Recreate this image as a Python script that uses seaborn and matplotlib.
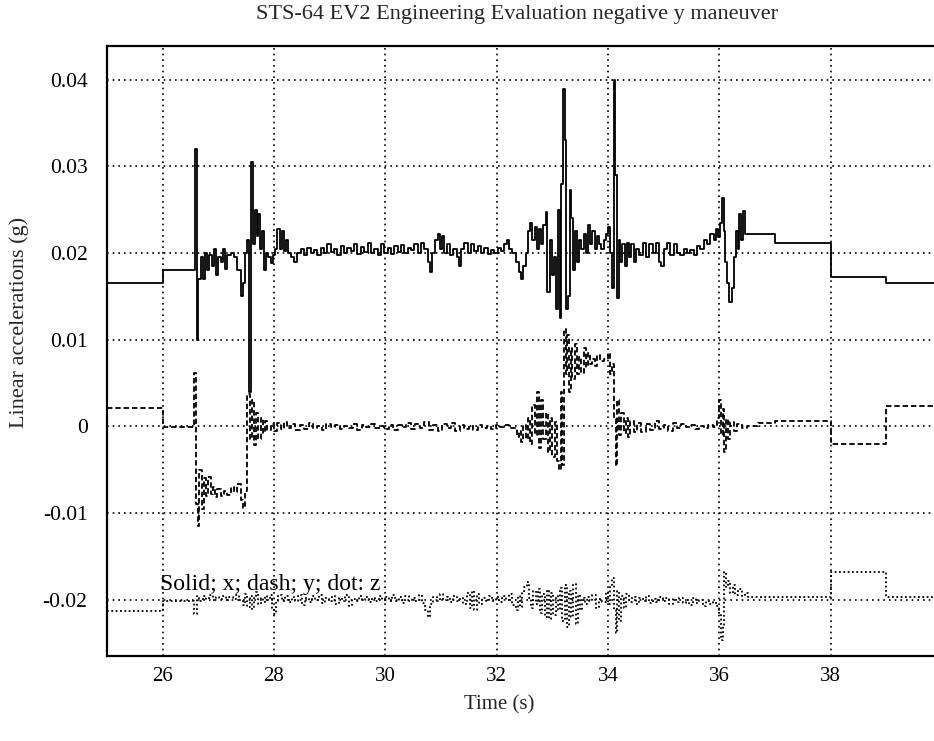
import matplotlib
matplotlib.use("Agg")
import matplotlib.pyplot as plt
import numpy as np
import pandas as pd
import seaborn as sns

# ---------------- data ----------------
x_points = [
    (25.00, 0.0165), (26.00, 0.0180), (26.58, 0.0320), (26.61, 0.0100), (26.64, 0.0170),
    (26.68, 0.0195), (26.72, 0.0170), (26.76, 0.0200), (26.80, 0.0180), (26.84, 0.0198),
    (26.88, 0.0185), (26.92, 0.0205), (26.96, 0.0175), (27.00, 0.0195), (27.04, 0.0190),
    (27.08, 0.0205), (27.12, 0.0182), (27.16, 0.0198), (27.22, 0.0200), (27.28, 0.0195),
    (27.34, 0.0180), (27.40, 0.0150), (27.44, 0.0165), (27.48, 0.0200), (27.52, 0.0215),
    (27.55, 0.0040), (27.59, 0.0305), (27.62, 0.0210), (27.66, 0.0250), (27.69, 0.0220),
    (27.72, 0.0245), (27.75, 0.0205), (27.78, 0.0225), (27.82, 0.0180), (27.86, 0.0200),
    (27.90, 0.0195), (27.94, 0.0188), (27.98, 0.0198), (28.02, 0.0205), (28.06, 0.0228),
    (28.10, 0.0205), (28.14, 0.0225), (28.18, 0.0202), (28.22, 0.0215), (28.26, 0.0200),
    (28.30, 0.0195), (28.36, 0.0190), (28.42, 0.0200), (28.48, 0.0205), (28.54, 0.0198),
    (28.60, 0.0206), (28.66, 0.0200), (28.72, 0.0204), (28.78, 0.0198), (28.84, 0.0206),
    (28.90, 0.0200), (28.96, 0.0210), (29.02, 0.0201), (29.08, 0.0205), (29.14, 0.0198),
    (29.20, 0.0208), (29.26, 0.0200), (29.32, 0.0206), (29.38, 0.0202), (29.44, 0.0210),
    (29.50, 0.0199), (29.56, 0.0207), (29.62, 0.0201), (29.68, 0.0212), (29.74, 0.0200),
    (29.80, 0.0205), (29.86, 0.0198), (29.92, 0.0210), (29.98, 0.0200), (30.04, 0.0206),
    (30.10, 0.0199), (30.16, 0.0208), (30.22, 0.0201), (30.28, 0.0209), (30.34, 0.0200),
    (30.40, 0.0206), (30.46, 0.0203), (30.52, 0.0210), (30.58, 0.0200), (30.64, 0.0212),
    (30.70, 0.0205), (30.76, 0.0190), (30.80, 0.0178), (30.84, 0.0200), (30.90, 0.0215),
    (30.94, 0.0222), (30.98, 0.0205), (31.02, 0.0220), (31.06, 0.0200), (31.10, 0.0210),
    (31.16, 0.0198), (31.22, 0.0205), (31.28, 0.0195), (31.32, 0.0185), (31.36, 0.0205),
    (31.42, 0.0212), (31.48, 0.0200), (31.54, 0.0210), (31.60, 0.0202), (31.66, 0.0208),
    (31.72, 0.0200), (31.78, 0.0206), (31.84, 0.0199), (31.90, 0.0204), (31.96, 0.0200),
    (32.02, 0.0206), (32.08, 0.0202), (32.14, 0.0210), (32.18, 0.0215), (32.22, 0.0205),
    (32.28, 0.0200), (32.34, 0.0190), (32.40, 0.0178), (32.44, 0.0170), (32.48, 0.0185),
    (32.52, 0.0200), (32.56, 0.0225), (32.60, 0.0235), (32.64, 0.0215), (32.68, 0.0230),
    (32.72, 0.0205), (32.76, 0.0228), (32.80, 0.0210), (32.84, 0.0232), (32.88, 0.0247),
    (32.91, 0.0155), (32.95, 0.0215), (32.99, 0.0175), (33.03, 0.0195), (33.07, 0.0135),
    (33.10, 0.0250), (33.13, 0.0125), (33.16, 0.0280), (33.19, 0.0389), (33.22, 0.0330),
    (33.25, 0.0135), (33.28, 0.0150), (33.31, 0.0273), (33.34, 0.0240), (33.37, 0.0180),
    (33.40, 0.0225), (33.44, 0.0190), (33.48, 0.0215), (33.52, 0.0205), (33.56, 0.0222),
    (33.60, 0.0200), (33.64, 0.0232), (33.68, 0.0210), (33.72, 0.0225), (33.76, 0.0205),
    (33.80, 0.0220), (33.84, 0.0210), (33.88, 0.0205), (33.92, 0.0215), (33.96, 0.0222),
    (34.00, 0.0230), (34.04, 0.0200), (34.07, 0.0160), (34.10, 0.0400), (34.13, 0.0290),
    (34.16, 0.0148), (34.19, 0.0215), (34.22, 0.0190), (34.26, 0.0210), (34.30, 0.0185),
    (34.34, 0.0212), (34.38, 0.0195), (34.42, 0.0210), (34.46, 0.0190), (34.50, 0.0205),
    (34.56, 0.0198), (34.62, 0.0212), (34.68, 0.0195), (34.74, 0.0210), (34.80, 0.0200),
    (34.86, 0.0212), (34.92, 0.0190), (34.96, 0.0185), (35.00, 0.0205), (35.06, 0.0212),
    (35.12, 0.0198), (35.18, 0.0210), (35.24, 0.0200), (35.30, 0.0198), (35.36, 0.0205),
    (35.42, 0.0200), (35.48, 0.0203), (35.54, 0.0198), (35.60, 0.0208), (35.66, 0.0205),
    (35.72, 0.0215), (35.78, 0.0210), (35.84, 0.0222), (35.90, 0.0215), (35.94, 0.0228),
    (35.98, 0.0218), (36.02, 0.0235), (36.05, 0.0264), (36.08, 0.0225), (36.11, 0.0190),
    (36.14, 0.0165), (36.18, 0.0143), (36.22, 0.0160), (36.26, 0.0195), (36.30, 0.0225),
    (36.33, 0.0205), (36.36, 0.0245), (36.39, 0.0215), (36.42, 0.0248), (36.46, 0.0222),
    (37.00, 0.0212), (38.00, 0.0172), (39.00, 0.0165), (40.00, 0.0165),
]

y_points = [
    (25.00, 0.0021), (26.00, -0.0001), (26.57, 0.0062), (26.60, -0.0090), (26.63, -0.0115),
    (26.66, -0.0050), (26.70, -0.0095), (26.74, -0.0060), (26.78, -0.0080), (26.82, -0.0058),
    (26.86, -0.0078), (26.90, -0.0070), (26.94, -0.0082), (26.98, -0.0072), (27.04, -0.0080),
    (27.10, -0.0074), (27.16, -0.0079), (27.22, -0.0070), (27.28, -0.0076), (27.34, -0.0066),
    (27.40, -0.0085), (27.44, -0.0094), (27.48, -0.0075), (27.52, 0.0037), (27.56, -0.0015),
    (27.60, 0.0030), (27.64, -0.0022), (27.68, 0.0015), (27.72, -0.0015), (27.76, 0.0010),
    (27.80, -0.0008), (27.84, 0.0006), (27.88, -0.0004), (27.94, 0.0003), (28.00, -0.0005),
    (28.06, 0.0004), (28.12, -0.0003), (28.18, 0.0005), (28.24, -0.0002), (28.30, 0.0003),
    (28.38, -0.0004), (28.46, 0.0002), (28.54, -0.0003), (28.62, 0.0004), (28.70, -0.0002),
    (28.78, 0.0001), (28.86, -0.0004), (28.94, 0.0003), (29.02, -0.0001), (29.10, 0.0002),
    (29.18, -0.0003), (29.26, 0.0001), (29.34, -0.0002), (29.42, 0.0003), (29.50, -0.0004),
    (29.58, 0.0002), (29.66, -0.0001), (29.74, 0.0003), (29.82, -0.0002), (29.90, 0.0001),
    (29.98, -0.0003), (30.06, 0.0002), (30.14, -0.0004), (30.22, 0.0002), (30.30, -0.0001),
    (30.38, 0.0004), (30.46, -0.0003), (30.54, 0.0003), (30.62, -0.0002), (30.70, 0.0005),
    (30.78, -0.0004), (30.86, 0.0002), (30.94, -0.0005), (31.02, 0.0003), (31.10, -0.0002),
    (31.18, 0.0004), (31.26, -0.0005), (31.34, 0.0002), (31.42, -0.0003), (31.50, 0.0001),
    (31.58, -0.0004), (31.66, 0.0002), (31.74, -0.0002), (31.82, 0.0001), (31.90, -0.0003),
    (31.98, 0.0002), (32.06, -0.0001), (32.14, 0.0002), (32.22, -0.0002), (32.30, -0.0002),
    (32.36, -0.0012), (32.40, -0.0005), (32.44, -0.0018), (32.48, 0.0002), (32.52, -0.0015),
    (32.56, 0.0010), (32.60, -0.0020), (32.64, 0.0025), (32.68, -0.0010), (32.72, 0.0040),
    (32.76, -0.0025), (32.80, 0.0030), (32.84, -0.0015), (32.88, 0.0015), (32.92, -0.0030),
    (32.96, 0.0010), (33.00, -0.0035), (33.04, 0.0005), (33.08, -0.0040), (33.12, -0.0050),
    (33.15, 0.0040), (33.18, -0.0045), (33.21, 0.0112), (33.24, 0.0060), (33.27, 0.0105),
    (33.30, 0.0040), (33.33, 0.0090), (33.36, 0.0055), (33.40, 0.0095), (33.44, 0.0060),
    (33.48, 0.0080), (33.52, 0.0062), (33.56, 0.0090), (33.60, 0.0068), (33.64, 0.0085),
    (33.68, 0.0072), (33.72, 0.0078), (33.76, 0.0070), (33.80, 0.0082), (33.86, 0.0075),
    (33.92, 0.0078), (34.00, 0.0085), (34.04, 0.0060), (34.08, 0.0072), (34.11, 0.0010),
    (34.14, -0.0046), (34.17, 0.0030), (34.20, -0.0010), (34.24, 0.0015), (34.28, -0.0008),
    (34.32, 0.0010), (34.36, -0.0012), (34.40, 0.0006), (34.46, -0.0006), (34.52, 0.0004),
    (34.60, -0.0006), (34.68, 0.0003), (34.76, -0.0004), (34.84, 0.0006), (34.92, -0.0003),
    (35.00, 0.0002), (35.08, -0.0005), (35.16, 0.0004), (35.24, -0.0002), (35.32, 0.0003),
    (35.40, -0.0001), (35.48, 0.0002), (35.56, -0.0003), (35.64, 0.0001), (35.72, -0.0002),
    (35.80, 0.0002), (35.88, -0.0001), (35.96, 0.0010), (36.00, 0.0030), (36.03, -0.0010),
    (36.06, 0.0020), (36.09, -0.0030), (36.12, 0.0008), (36.16, -0.0015), (36.20, 0.0005),
    (36.26, -0.0005), (36.32, 0.0003), (36.40, -0.0002), (36.50, 0.0000), (36.70, 0.0004),
    (37.00, 0.0006), (38.00, -0.0020), (39.00, 0.0023), (40.00, 0.0023),
]

z_points = [
    (25.00, -0.0213), (26.00, -0.0201), (26.57, -0.0216), (26.61, -0.0196), (26.66, -0.0201),
    (26.72, -0.0196), (26.78, -0.0199), (26.84, -0.0195), (26.90, -0.0200), (26.96, -0.0197),
    (27.02, -0.0199), (27.08, -0.0196), (27.14, -0.0200), (27.20, -0.0197), (27.26, -0.0199),
    (27.32, -0.0195), (27.38, -0.0200), (27.44, -0.0206), (27.48, -0.0193), (27.52, -0.0209),
    (27.56, -0.0196), (27.60, -0.0211), (27.64, -0.0198), (27.68, -0.0191), (27.72, -0.0205),
    (27.76, -0.0198), (27.80, -0.0203), (27.84, -0.0196), (27.88, -0.0200), (27.92, -0.0195),
    (27.96, -0.0210), (28.00, -0.0217), (28.04, -0.0202), (28.08, -0.0195), (28.14, -0.0201),
    (28.20, -0.0196), (28.26, -0.0203), (28.32, -0.0197), (28.38, -0.0201), (28.44, -0.0195),
    (28.50, -0.0206), (28.56, -0.0198), (28.62, -0.0203), (28.68, -0.0196), (28.74, -0.0200),
    (28.80, -0.0195), (28.86, -0.0204), (28.92, -0.0198), (28.98, -0.0202), (29.04, -0.0196),
    (29.10, -0.0205), (29.16, -0.0198), (29.22, -0.0201), (29.28, -0.0195), (29.34, -0.0207),
    (29.40, -0.0199), (29.46, -0.0202), (29.52, -0.0196), (29.58, -0.0200), (29.64, -0.0197),
    (29.70, -0.0203), (29.76, -0.0198), (29.82, -0.0201), (29.88, -0.0196), (29.94, -0.0200),
    (30.00, -0.0197), (30.06, -0.0202), (30.12, -0.0195), (30.18, -0.0201), (30.24, -0.0197),
    (30.30, -0.0204), (30.36, -0.0196), (30.42, -0.0201), (30.48, -0.0198), (30.54, -0.0202),
    (30.60, -0.0195), (30.66, -0.0204), (30.72, -0.0212), (30.76, -0.0220), (30.80, -0.0205),
    (30.86, -0.0197), (30.92, -0.0202), (30.98, -0.0194), (31.04, -0.0200), (31.10, -0.0197),
    (31.16, -0.0203), (31.22, -0.0196), (31.28, -0.0201), (31.34, -0.0198), (31.40, -0.0205),
    (31.46, -0.0192), (31.52, -0.0210), (31.56, -0.0190), (31.60, -0.0212), (31.64, -0.0194),
    (31.68, -0.0205), (31.74, -0.0198), (31.80, -0.0202), (31.86, -0.0196), (31.92, -0.0201),
    (31.98, -0.0197), (32.04, -0.0203), (32.10, -0.0196), (32.16, -0.0200), (32.22, -0.0193),
    (32.28, -0.0206), (32.34, -0.0212), (32.38, -0.0196), (32.42, -0.0208), (32.46, -0.0192),
    (32.50, -0.0185), (32.54, -0.0180), (32.58, -0.0198), (32.62, -0.0210), (32.66, -0.0190),
    (32.70, -0.0205), (32.74, -0.0188), (32.78, -0.0215), (32.82, -0.0194), (32.86, -0.0220),
    (32.90, -0.0189), (32.94, -0.0222), (32.98, -0.0192), (33.02, -0.0218), (33.06, -0.0196),
    (33.10, -0.0212), (33.14, -0.0186), (33.18, -0.0225), (33.22, -0.0183), (33.26, -0.0232),
    (33.30, -0.0190), (33.34, -0.0220), (33.38, -0.0182), (33.42, -0.0228), (33.46, -0.0195),
    (33.50, -0.0212), (33.54, -0.0198), (33.58, -0.0205), (33.62, -0.0197), (33.66, -0.0201),
    (33.72, -0.0195), (33.78, -0.0210), (33.84, -0.0199), (33.90, -0.0203), (33.96, -0.0191),
    (34.00, -0.0205), (34.04, -0.0183), (34.08, -0.0175), (34.11, -0.0212), (34.14, -0.0238),
    (34.17, -0.0190), (34.20, -0.0225), (34.24, -0.0196), (34.28, -0.0210), (34.32, -0.0194),
    (34.38, -0.0203), (34.44, -0.0197), (34.50, -0.0205), (34.56, -0.0198), (34.62, -0.0202),
    (34.68, -0.0196), (34.74, -0.0204), (34.80, -0.0199), (34.86, -0.0203), (34.92, -0.0197),
    (34.98, -0.0202), (35.04, -0.0198), (35.10, -0.0205), (35.16, -0.0199), (35.22, -0.0203),
    (35.28, -0.0198), (35.34, -0.0204), (35.40, -0.0200), (35.46, -0.0206), (35.52, -0.0198),
    (35.58, -0.0204), (35.64, -0.0200), (35.70, -0.0207), (35.76, -0.0201), (35.82, -0.0205),
    (35.88, -0.0203), (35.94, -0.0207), (36.00, -0.0215), (36.03, -0.0246), (36.06, -0.0230),
    (36.09, -0.0168), (36.12, -0.0185), (36.16, -0.0178), (36.20, -0.0192), (36.24, -0.0183),
    (36.28, -0.0195), (36.34, -0.0188), (36.40, -0.0196), (36.46, -0.0192), (36.52, -0.0197),
    (38.00, -0.0168), (39.00, -0.0197), (40.00, -0.0197),
]

x_time, x_acc = [list(v) for v in zip(*x_points)]
y_time, y_acc = [list(v) for v in zip(*y_points)]
z_time, z_acc = [list(v) for v in zip(*z_points)]

xtick_values = [26, 28, 30, 32, 34, 36, 38]
ytick_values = [-0.02, -0.01, 0.0, 0.01, 0.02, 0.03, 0.04]
ytick_labels = ["-0.02", "-0.01", "0", "0.01", "0.02", "0.03", "0.04"]

title_text = "STS-64 EV2 Engineering Evaluation negative y maneuver"
xlabel_text = "Time (s)"
ylabel_text = "Linear accelerations (g)"
legend_text = "Solid; x; dash; y; dot: z"

# ---------------- style ----------------
sns.set_theme(style="white")
plt.rcParams["font.family"] = ["Liberation Serif", "DejaVu Serif"]

W, H = 934, 741
fig = plt.figure(figsize=(W / 100, H / 100), dpi=100)
ax = fig.add_axes([107 / W, 85 / H, 835 / W, 610 / H])

df_x = pd.DataFrame({"t": x_time, "a": x_acc})
df_y = pd.DataFrame({"t": y_time, "a": y_acc})
df_z = pd.DataFrame({"t": z_time, "a": z_acc})

sns.lineplot(data=df_x, x="t", y="a", ax=ax, color="black", estimator=None, sort=False,
             drawstyle="steps-post", linewidth=1.3)
sns.lineplot(data=df_y, x="t", y="a", ax=ax, color="black", estimator=None, sort=False,
             drawstyle="steps-post", linewidth=1.3)
ax.lines[-1].set_dashes([3.0, 1.6])
sns.lineplot(data=df_z, x="t", y="a", ax=ax, color="black", estimator=None, sort=False,
             drawstyle="steps-post", linewidth=1.3)
ax.lines[-1].set_dashes([1.0, 1.4])

ax.set_xlim(25, 40)
ax.set_ylim(-0.0265, 0.0439)
ax.set_xticks(xtick_values)
ax.set_xticklabels([str(v) for v in xtick_values])
ax.set_yticks(ytick_values)
ax.set_yticklabels(ytick_labels)
ax.set_xlabel("")
ax.set_ylabel("")

ax.grid(True, color="black", linestyle=(0, (1.0, 2.4)), linewidth=1.2)
ax.tick_params(axis="both", direction="in", length=5, width=1.2, colors="black")
ax.tick_params(axis="x", labelsize=15, pad=8)
ax.tick_params(axis="y", labelsize=15.5, pad=14)
for s in ax.spines.values():
    s.set_visible(True)
    s.set_color("black")
    s.set_linewidth(1.6)

ax.text(25.95, -0.0182, legend_text, fontsize=17, va="center", ha="left", color="black")

fig.text(517 / W, 1 - 15 / H, title_text, ha="center", va="center", fontsize=16)
fig.text(499 / W, 1 - 705 / H, xlabel_text, ha="center", va="center", fontsize=15)
fig.text(19 / W, 1 - 322 / H, ylabel_text, ha="center", va="center", fontsize=16, rotation=90)

fig.savefig("out.png", dpi=100)
